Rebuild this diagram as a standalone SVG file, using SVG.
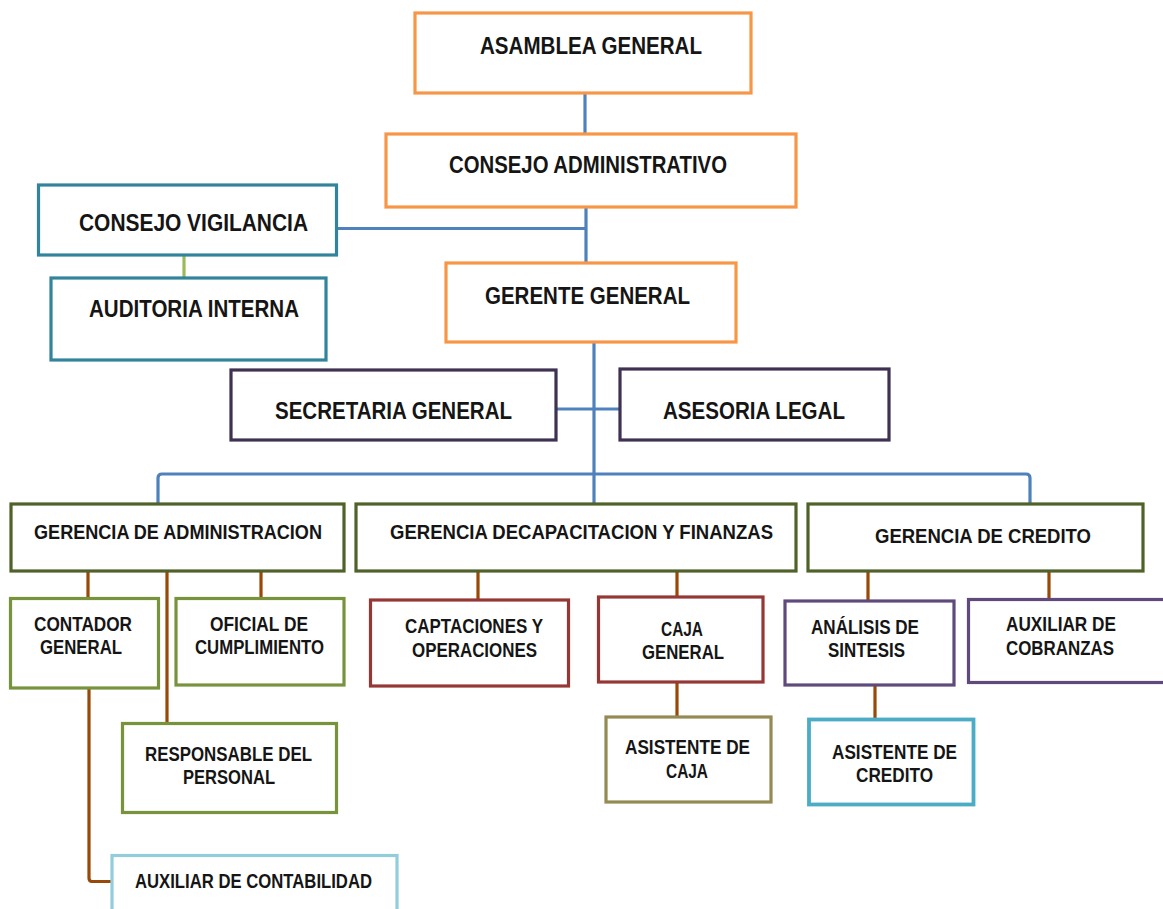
<svg xmlns="http://www.w3.org/2000/svg" width="1163" height="909" viewBox="0 0 1163 909">
<style>
.box{fill:#fff;stroke-width:3.2}
.or{stroke:#F79646}.tl{stroke:#31849B}.dp{stroke:#3F3151}.og{stroke:#4F6228}
.gr{stroke:#77933C}.rd{stroke:#953735}.pu{stroke:#604A7B}.kh{stroke:#948A54}
.lb{stroke:#92CDDC}.cy{stroke:#4BACC6}
text{font-family:"Liberation Sans Narrow","Liberation Sans",Arial,sans-serif;font-weight:bold;fill:#151515}
.t1{font-size:24px}.t2{font-size:21px}.t3{font-size:20px}
.bl{stroke:#4F81BD;stroke-width:3.2;fill:none}
.br{stroke:#984807;stroke-width:3.2;fill:none}
.gn{stroke:#9BBB59;stroke-width:3.2;fill:none}
</style>
<rect width="1163" height="909" fill="#fff"/>
<g id="connectors">
<path class="bl" d="M585 93V134"/>
<path class="bl" d="M337 228.5H586M586 207V263"/>
<path class="gn" d="M184 255V278"/>
<path class="bl" d="M594 342V503"/>
<path class="bl" d="M556 409H620"/>
<path class="bl" d="M158 503V478Q158 474 162 474H1026Q1030 474 1030 478V503"/>
<path class="br" d="M88 571V598M167 571V723M261 571V598"/>
<path class="br" d="M89 688V878Q89 881.5 92 881.5H112"/>
<path class="br" d="M478 571V600M677 571V597M677 682V717"/>
<path class="br" d="M868 571V601M1049 571V599M875 685V719"/>
</g>
<g id="asamblea"><rect class="box or" x="415" y="13" width="336" height="80"/><text class="t1" x="480" y="54" textLength="222" lengthAdjust="spacingAndGlyphs">ASAMBLEA GENERAL</text></g>
<g id="consejo-adm"><rect class="box or" x="386" y="134" width="410" height="73"/><text class="t1" x="449" y="173" textLength="278" lengthAdjust="spacingAndGlyphs">CONSEJO ADMINISTRATIVO</text></g>
<g id="consejo-vig"><rect class="box tl" x="38.5" y="185" width="298" height="70"/><text class="t1" x="79" y="231" textLength="229" lengthAdjust="spacingAndGlyphs">CONSEJO  VIGILANCIA</text></g>
<g id="auditoria"><rect class="box tl" x="51" y="278" width="275" height="82"/><text class="t1" x="89" y="317" textLength="210" lengthAdjust="spacingAndGlyphs">AUDITORIA INTERNA</text></g>
<g id="gerente"><rect class="box or" x="446" y="263" width="290" height="79"/><text class="t1" x="485" y="304" textLength="205" lengthAdjust="spacingAndGlyphs">GERENTE GENERAL</text></g>
<g id="secretaria"><rect class="box dp" x="231" y="370" width="325" height="70"/><text class="t1" x="275" y="419" textLength="237" lengthAdjust="spacingAndGlyphs">SECRETARIA  GENERAL</text></g>
<g id="asesoria"><rect class="box dp" x="620" y="369" width="269" height="71"/><text class="t1" x="663" y="419" textLength="182" lengthAdjust="spacingAndGlyphs">ASESORIA  LEGAL</text></g>
<g id="ger-admin"><rect class="box og" x="11" y="504" width="333" height="67"/><text class="t2" x="34" y="539" textLength="288" lengthAdjust="spacingAndGlyphs">GERENCIA DE ADMINISTRACION</text></g>
<g id="ger-cap"><rect class="box og" x="356" y="504" width="440" height="67"/><text class="t2" x="390" y="539" textLength="383" lengthAdjust="spacingAndGlyphs">GERENCIA DECAPACITACION Y FINANZAS</text></g>
<g id="ger-credito"><rect class="box og" x="808" y="504" width="335" height="67"/><text class="t2" x="875" y="543" textLength="216" lengthAdjust="spacingAndGlyphs">GERENCIA DE CREDITO</text></g>
<g id="contador"><rect class="box gr" x="10.5" y="598.5" width="148" height="89.5"/><text class="t3" x="34" y="631" textLength="98" lengthAdjust="spacingAndGlyphs">CONTADOR</text><text class="t3" x="40" y="654" textLength="82" lengthAdjust="spacingAndGlyphs">GENERAL</text></g>
<g id="oficial"><rect class="box gr" x="176" y="598.5" width="168" height="86.5"/><text class="t3" x="210" y="631" textLength="98" lengthAdjust="spacingAndGlyphs">OFICIAL DE</text><text class="t3" x="195" y="654" textLength="129" lengthAdjust="spacingAndGlyphs">CUMPLIMIENTO</text></g>
<g id="responsable"><rect class="box gr" x="122.5" y="723.5" width="214" height="89"/><text class="t3" x="145" y="761" textLength="167" lengthAdjust="spacingAndGlyphs">RESPONSABLE DEL</text><text class="t3" x="183" y="784" textLength="92" lengthAdjust="spacingAndGlyphs">PERSONAL</text></g>
<g id="aux-contab"><rect class="box lb" x="112" y="855.5" width="285" height="70"/><text class="t3" x="135" y="888" textLength="237" lengthAdjust="spacingAndGlyphs">AUXILIAR DE CONTABILIDAD</text></g>
<g id="captaciones"><rect class="box rd" x="370.5" y="600" width="198" height="86"/><text class="t3" x="405" y="633" textLength="138" lengthAdjust="spacingAndGlyphs">CAPTACIONES Y</text><text class="t3" x="412" y="657" textLength="125" lengthAdjust="spacingAndGlyphs">OPERACIONES</text></g>
<g id="caja"><rect class="box rd" x="598.5" y="597" width="164.5" height="85"/><text class="t3" x="661" y="636" textLength="42" lengthAdjust="spacingAndGlyphs">CAJA</text><text class="t3" x="642" y="659" textLength="82" lengthAdjust="spacingAndGlyphs">GENERAL</text></g>
<g id="asist-caja"><rect class="box kh" x="606" y="717" width="165" height="85"/><text class="t3" x="625" y="754" textLength="125" lengthAdjust="spacingAndGlyphs">ASISTENTE DE</text><text class="t3" x="666" y="778" textLength="42" lengthAdjust="spacingAndGlyphs">CAJA</text></g>
<g id="analisis"><rect class="box pu" x="785" y="601" width="169" height="84"/><text class="t3" x="811" y="634" textLength="108" lengthAdjust="spacingAndGlyphs">ANÁLISIS DE</text><text class="t3" x="828" y="657" textLength="77" lengthAdjust="spacingAndGlyphs">SINTESIS</text></g>
<g id="aux-cobranzas"><rect class="box pu" x="968.5" y="599.5" width="200" height="83"/><text class="t3" x="1006" y="631" textLength="110" lengthAdjust="spacingAndGlyphs">AUXILIAR DE</text><text class="t3" x="1006" y="655" textLength="108" lengthAdjust="spacingAndGlyphs">COBRANZAS</text></g>
<g id="asist-credito"><rect class="box cy" x="809" y="719.5" width="164.5" height="85" style="stroke-width:3.8"/><text class="t3" x="832" y="759" textLength="125" lengthAdjust="spacingAndGlyphs">ASISTENTE DE</text><text class="t3" x="856" y="782" textLength="77" lengthAdjust="spacingAndGlyphs">CREDITO</text></g>
</svg>
